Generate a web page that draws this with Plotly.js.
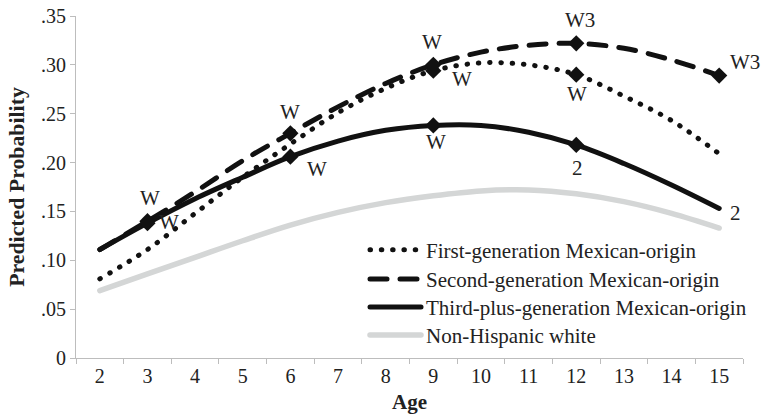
<!DOCTYPE html>
<html>
<head>
<meta charset="utf-8">
<script src="https://cdn.plot.ly/plotly-3.0.1.min.js"></script>
<style>
  html, body { margin: 0; padding: 0; background: #fff; }
  #chart { width: 761px; height: 415px; }
  path.js-line { stroke-linecap: round; stroke-linejoin: round; }
</style>
</head>
<body>
<div id="chart"></div>
<script>
// ---- Data ----
const ages = ['2','3','4','5','6','7','8','9','10','11','12','13','14','15'];
const firstGen  = [0.081, 0.111, 0.148, 0.185, 0.219, 0.251, 0.276, 0.294, 0.302, 0.300, 0.290, 0.268, 0.243, 0.209];
const secondGen = [0.111, 0.140, 0.170, 0.202, 0.230, 0.257, 0.281, 0.300, 0.313, 0.320, 0.322, 0.317, 0.305, 0.289];
const thirdPlus = [0.111, 0.138, 0.163, 0.185, 0.206, 0.222, 0.233, 0.238, 0.238, 0.231, 0.218, 0.199, 0.177, 0.153];
const nhWhite   = [0.069, 0.086, 0.103, 0.120, 0.136, 0.149, 0.159, 0.166, 0.171, 0.172, 0.168, 0.160, 0.148, 0.133];

const seriesNames = ['First-generation Mexican-origin', 'Second-generation Mexican-origin',
                     'Third-plus-generation Mexican-origin', 'Non-Hispanic white'];

// Marked (significant) ages and their labels
const firstMarkAges  = ['9', '12'];
const firstMarkText  = ['W', 'W'];
const secondMarkAges = ['3', '6', '9', '12', '15'];
const secondMarkText = ['W', 'W', 'W', 'W3', 'W3'];
const thirdMarkAges  = ['3', '6', '9', '12'];
const thirdMarkText  = ['W', 'W', 'W', '2'];
const thirdEndAges   = ['15'];
const thirdEndText   = ['2'];

const yTickVals = [0, 0.05, 0.10, 0.15, 0.20, 0.25, 0.30, 0.35];
const yTickText = ['0', '.05', '.10', '.15', '.20', '.25', '.30', '.35'];

// ---- Styles ----
const FONT = '"Liberation Serif", "Times New Roman", "DejaVu Serif", serif';
const BLACK = '#111111';
const GREY = '#d4d6d6';
const AXIS = '#bdbdbd';
const TXT = '#222222';

function pick(values, marks) { return marks.map(a => values[ages.indexOf(a)]); }

const traces = [
  { x: ages, y: firstGen, name: seriesNames[0], mode: 'lines', legend: 'legend', showlegend: true,
    line: { color: BLACK, width: 5, dash: '0.5px,10.8px', shape: 'spline', smoothing: 1 } },
  { x: ages, y: secondGen, name: seriesNames[1], mode: 'lines', legend: 'legend2', showlegend: true,
    line: { color: BLACK, width: 5, dash: '17px,13px', shape: 'spline', smoothing: 1 } },
  { x: ages, y: thirdPlus, name: seriesNames[2], mode: 'lines', legend: 'legend3', showlegend: true,
    line: { color: BLACK, width: 5, shape: 'spline', smoothing: 1 } },
  { x: ages, y: nhWhite, name: seriesNames[3], mode: 'lines', legend: 'legend4', showlegend: true,
    line: { color: GREY, width: 5.5, shape: 'spline', smoothing: 1 } },
  { x: firstMarkAges, y: pick(firstGen, firstMarkAges), mode: 'markers', showlegend: false, hoverinfo: 'skip',
    marker: { symbol: 'diamond', size: 12.5, color: BLACK } },
  { x: secondMarkAges, y: pick(secondGen, secondMarkAges), mode: 'markers', showlegend: false, hoverinfo: 'skip',
    marker: { symbol: 'diamond', size: 12.5, color: BLACK } },
  { x: thirdMarkAges, y: pick(thirdPlus, thirdMarkAges), mode: 'markers', showlegend: false, hoverinfo: 'skip',
    marker: { symbol: 'diamond', size: 12.5, color: BLACK } }
];

// label offsets (px, right / down) relative to the point
const firstOff  = [[29, 8], [1, 19]];
const secondOff = [[3, -23], [0, -21.5], [-1, -23], [4, -23], [26, -13.5]];
const thirdOff  = [[21.5, -1], [26.5, 12], [3, 17], [1, 23.5]];
const thirdEndOff = [[16.5, 4]];

const annotations = [];
function addLabels(values, marks, texts, offs) {
  marks.forEach((a, i) => {
    annotations.push({
      x: ages.indexOf(a), y: values[ages.indexOf(a)], xref: 'x', yref: 'y', text: texts[i],
      showarrow: false, xshift: offs[i][0], yshift: -offs[i][1],
      font: { family: FONT, size: 21, color: TXT }
    });
  });
}
addLabels(firstGen, firstMarkAges, firstMarkText, firstOff);
addLabels(secondGen, secondMarkAges, secondMarkText, secondOff);
addLabels(thirdPlus, thirdMarkAges, thirdMarkText, thirdOff);
addLabels(thirdPlus, thirdEndAges, thirdEndText, thirdEndOff);

// one legend box per row so the row pitch matches the reference
const legendRowsY = [0.3154, 0.2303, 0.1484, 0.0665];
function legendBox(yy) {
  return {
    x: 0.4333, y: yy, xanchor: 'left', yanchor: 'middle',
    bgcolor: 'rgba(0,0,0,0)', borderwidth: 0,
    font: { family: FONT, size: 21, color: TXT },
    itemwidth: 51
  };
}

const layout = {
  width: 761, height: 415,
  margin: { l: 76, r: 18, t: 16, b: 57, pad: 0, autoexpand: false },
  paper_bgcolor: '#ffffff', plot_bgcolor: '#ffffff',
  font: { family: FONT, size: 20, color: TXT },
  showlegend: true,
  legend: legendBox(legendRowsY[0]),
  legend2: legendBox(legendRowsY[1]),
  legend3: legendBox(legendRowsY[2]),
  legend4: legendBox(legendRowsY[3]),
  xaxis: {
    type: 'category', categoryorder: 'array', categoryarray: ages,
    range: [-0.5, ages.length - 0.5], autorange: false, automargin: false,
    tickson: 'boundaries', ticks: 'outside', ticklen: 5,
    tickcolor: AXIS, tickwidth: 1, showline: true, linecolor: AXIS, linewidth: 1,
    showgrid: false, zeroline: false, fixedrange: true,
    ticklabelstandoff: 0,
    tickfont: { family: FONT, size: 20, color: TXT },
    title: { text: '<b>Age</b>', font: { family: FONT, size: 21, color: TXT }, standoff: 8 }
  },
  yaxis: {
    range: [0, 0.35], autorange: false, automargin: false, tickvals: yTickVals, ticktext: yTickText,
    ticks: 'outside', ticklen: 5, tickcolor: AXIS, tickwidth: 1,
    showline: true, linecolor: AXIS, linewidth: 1,
    showgrid: false, zeroline: false, fixedrange: true,
    tickfont: { family: FONT, size: 20, color: TXT },
    title: { text: '<b>Predicted Probability</b>', font: { family: FONT, size: 21.8, color: TXT }, standoff: 9.5 }
  },
  annotations: annotations
};

Plotly.newPlot('chart', traces, layout, { staticPlot: true, displayModeBar: false });
</script>
</body>
</html>
